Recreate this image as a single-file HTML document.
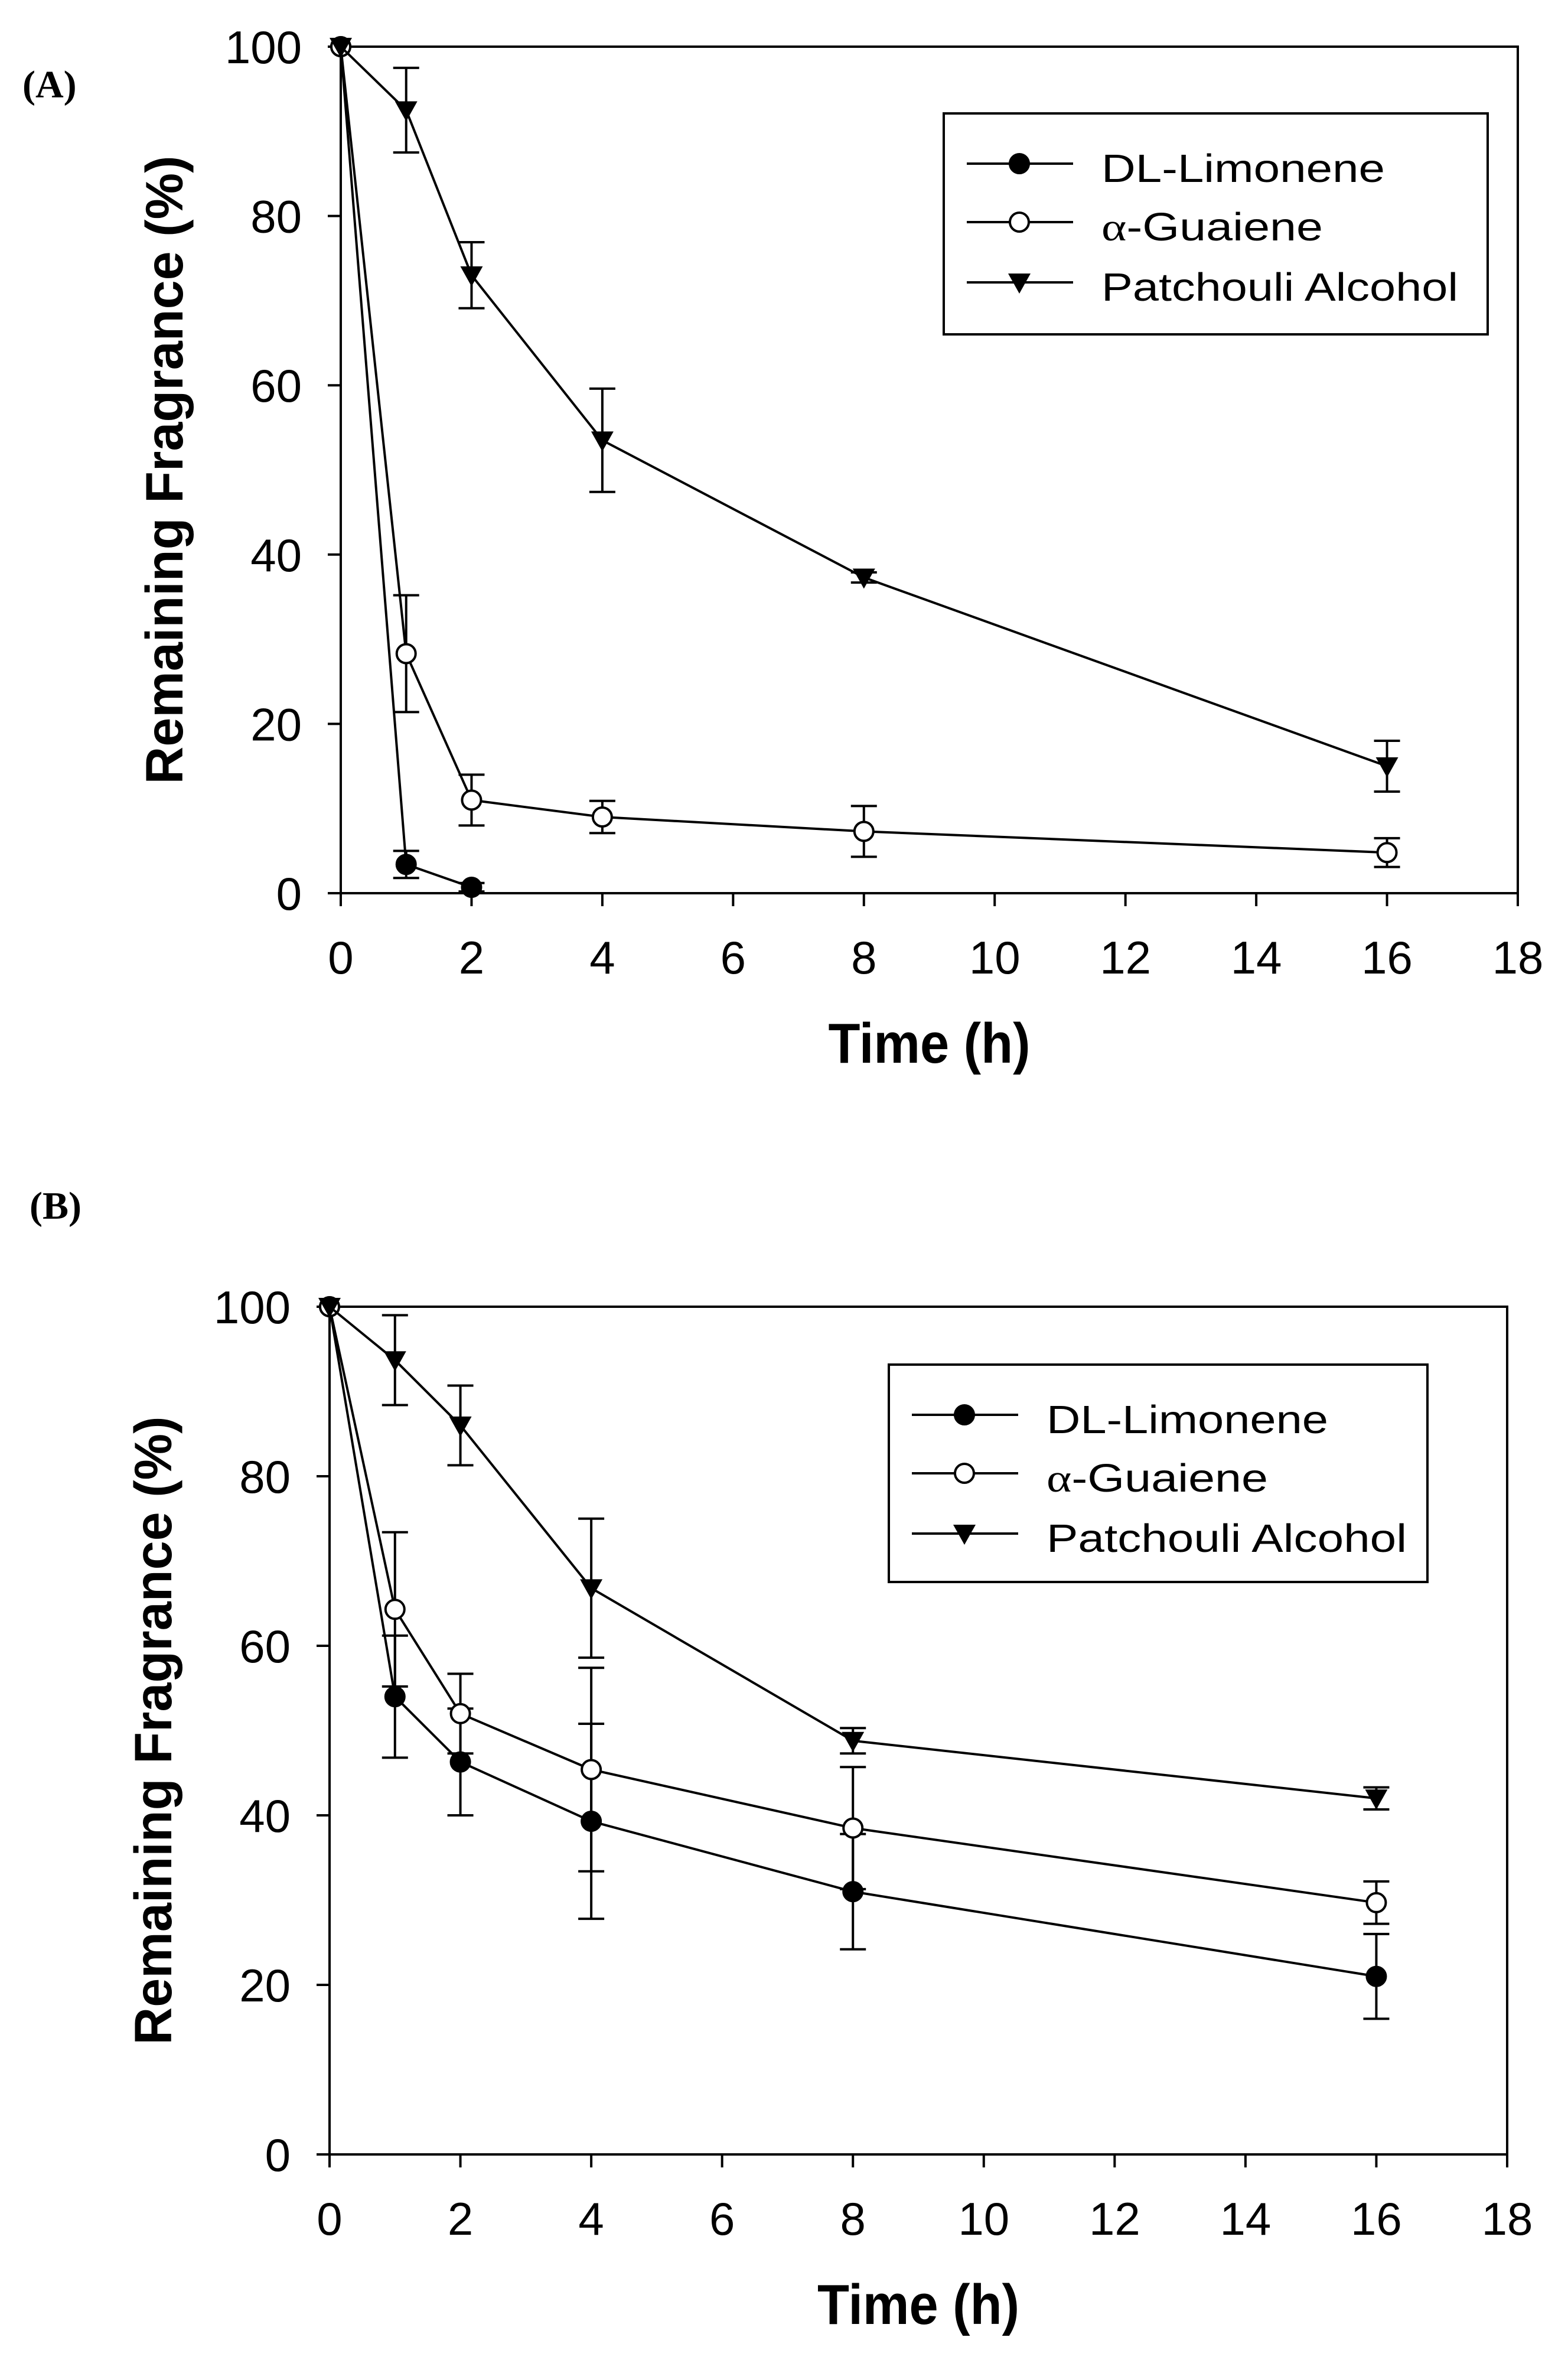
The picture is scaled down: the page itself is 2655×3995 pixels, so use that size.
<!DOCTYPE html>
<html><head><meta charset="utf-8"><style>
html,body{margin:0;padding:0;background:#fff;}
svg{display:block;}
text{font-family:"Liberation Sans",Arial,sans-serif;fill:#000;}
</style></head>
<body>
<svg id="fig" xmlns="http://www.w3.org/2000/svg" width="2655" height="3995" viewBox="0 0 2655 3995">
<rect width="2655" height="3995" fill="#fff"/>
</svg>
<script>
const times = [0, 1, 2, 4, 8, 16];
const xTicks = [0, 2, 4, 6, 8, 10, 12, 14, 16, 18];
const yTicks = [0, 20, 40, 60, 80, 100];
const seriesNames = ["DL-Limonene", "α-Guaiene", "Patchouli Alcohol"];
// Panel A
const aLimonene = [100, 3.4, 0.7, null, null, null];
const aLimoneneErr = [0, 1.6, 0.5, 0, 0, 0];
const aGuaiene = [100, 28.3, 11, 9, 7.3, 4.8];
const aGuaieneErr = [0, 6.9, 3, 1.9, 3, 1.7];
const aPatchouli = [100, 92.5, 73, 53.5, 37.3, 15];
const aPatchouliErr = [0, 5, 3.9, 6.1, 0.6, 3];
// Panel B
const bLimonene = [100, 54, 46.3, 39.3, 31, 21];
const bLimoneneErr = [0, 7.2, 6.3, 11.5, 6.8, 5];
const bGuaiene = [100, 64.3, 52, 45.4, 38.5, 29.7];
const bGuaieneErr = [0, 9.1, 4.7, 12, 7.2, 2.5];
const bPatchouli = [100, 93.7, 86, 66.8, 48.8, 42];
const bPatchouliErr = [0, 5.3, 4.7, 8.2, 1.5, 1.3];

const NS = "http://www.w3.org/2000/svg";
const svg = document.getElementById("fig");
function el(tag, attrs, parent) {
  const e = document.createElementNS(NS, tag);
  for (const k in attrs) e.setAttribute(k, attrs[k]);
  (parent || svg).appendChild(e);
  return e;
}

const panels = [
  { id: "a", label: "(A)", lx: 38, ly: 165, L: 577, R: 2570, T: 79, B: 1512,
    leg: { x: 1598, y: 192, w: 921, h: 374, tl: [480, 375, 604] },
    series: [[aLimonene, aLimoneneErr], [aGuaiene, aGuaieneErr], [aPatchouli, aPatchouliErr]] },
  { id: "b", label: "(B)", lx: 50, ly: 2063, L: 558, R: 2552, T: 2212, B: 3647,
    leg: { x: 1505, y: 2310, w: 912, h: 368, tl: [477, 375, 610] },
    series: [[bLimonene, bLimoneneErr], [bGuaiene, bGuaieneErr], [bPatchouli, bPatchouliErr]] }
];

function marker(g, kind, cx, cy) {
  let m;
  if (kind === 2) {
    m = el("polygon", { points: (cx-19)+","+(cy-15)+" "+(cx+19)+","+(cy-15)+" "+cx+","+(cy+19), fill: "#000" }, g);
  } else {
    m = el("circle", { cx: cx, cy: cy, r: 16, fill: kind === 0 ? "#000" : "#fff", stroke: "#000", "stroke-width": 4 }, g);
  }
  return m;
}

panels.forEach(p => {
  const sx = v => p.L + (v - 0) / 18 * (p.R - p.L);
  const sy = v => p.B - v / 100 * (p.B - p.T);
  const g = el("g", {});
  
  

  const lab = el("text", { x: p.lx, y: p.ly, style: "font-family:'Liberation Serif',serif;font-weight:bold;font-size:66px" }, g);
  lab.textContent = p.label;
  
  

  const frame = el("rect", { x: p.L, y: p.T, width: p.R - p.L, height: p.B - p.T, fill: "none", stroke: "#000", "stroke-width": 4 }, g);
  
  

  xTicks.forEach(t => {
    const x = sx(t);
    el("line", { x1: x, y1: p.B, x2: x, y2: p.B + 22, stroke: "#000", "stroke-width": 4 }, g);
    const tx = el("text", { x: x, y: p.B + 136, "text-anchor": "middle", "font-size": 78 }, g);
    tx.textContent = t;
    
    
  });
  yTicks.forEach(t => {
    const y = sy(t);
    el("line", { x1: p.L - 22, y1: y, x2: p.L, y2: y, stroke: "#000", "stroke-width": 4 }, g);
    const ty = el("text", { x: p.L - 66, y: y + 28, "text-anchor": "end", "font-size": 78 }, g);
    ty.textContent = t;
    
    
  });

  const xt = el("text", { x: (p.L + p.R) / 2, y: p.B + 287, "text-anchor": "middle", "font-size": 96, "font-weight": "bold", textLength: 342, lengthAdjust: "spacingAndGlyphs" }, g);
  xt.textContent = "Time (h)";
  
  

  const cy = (p.T + p.B) / 2, bx = p.L - 268;
  const yt = el("text", { x: bx, y: cy, transform: "rotate(-90 " + bx + " " + cy + ")", "text-anchor": "middle", "font-size": 89, "font-weight": "bold", textLength: 1064, lengthAdjust: "spacingAndGlyphs" }, g);
  yt.textContent = "Remaining Fragrance (%)";
  
  

  p.series.forEach((s, k) => {
    const vals = s[0], errs = s[1];
    const sg = el("g", {}, g);
    
    
    const pts = [];
    times.forEach((t, i) => { if (vals[i] !== null) pts.push([sx(t), sy(vals[i])]); });
    const line = el("polyline", { points: pts.map(q => q.join(",")).join(" "), fill: "none", stroke: "#000", "stroke-width": 4, "stroke-linejoin": "round" }, sg);
    
    
    times.forEach((t, i) => {
      if (vals[i] === null || !errs[i]) return;
      const x = sx(t), y1 = sy(vals[i] + errs[i]), y2 = sy(vals[i] - errs[i]);
      const eb = el("path", { d: "M" + x + "," + y1 + "V" + y2 + "M" + (x-22) + "," + y1 + "H" + (x+22) + "M" + (x-22) + "," + y2 + "H" + (x+22), stroke: "#000", "stroke-width": 4, fill: "none" }, sg);
      
      
    });
    times.forEach((t, i) => {
      if (vals[i] === null) return;
      const m = marker(sg, k, sx(t), sy(vals[i]));
      
      
    });
  });

  const L = p.leg;
  const lg = el("g", {}, g);
  
  
  el("rect", { x: L.x, y: L.y, width: L.w, height: L.h, fill: "#fff", stroke: "#000", "stroke-width": 4 }, lg);
  const offs = [85, 184, 286];
  seriesNames.forEach((n, k) => {
    const y = L.y + offs[k];
    const eg = el("g", {}, lg);
    
    
    el("line", { x1: L.x + 39, y1: y, x2: L.x + 219, y2: y, stroke: "#000", "stroke-width": 4 }, eg);
    marker(eg, k, L.x + 128, y);
    const tt = el("text", { x: L.x + 267, y: y + 31, "font-size": 67, textLength: L.tl[k], lengthAdjust: "spacingAndGlyphs" }, eg);
    if (k === 1) {
      const a = el("tspan", { style: "font-family:'Liberation Serif',serif" }, tt);
      a.textContent = "α";
      const b = el("tspan", {}, tt);
      b.textContent = "-Guaiene";
    } else {
      tt.textContent = n;
    }
  });
});
</script>
</body></html>
